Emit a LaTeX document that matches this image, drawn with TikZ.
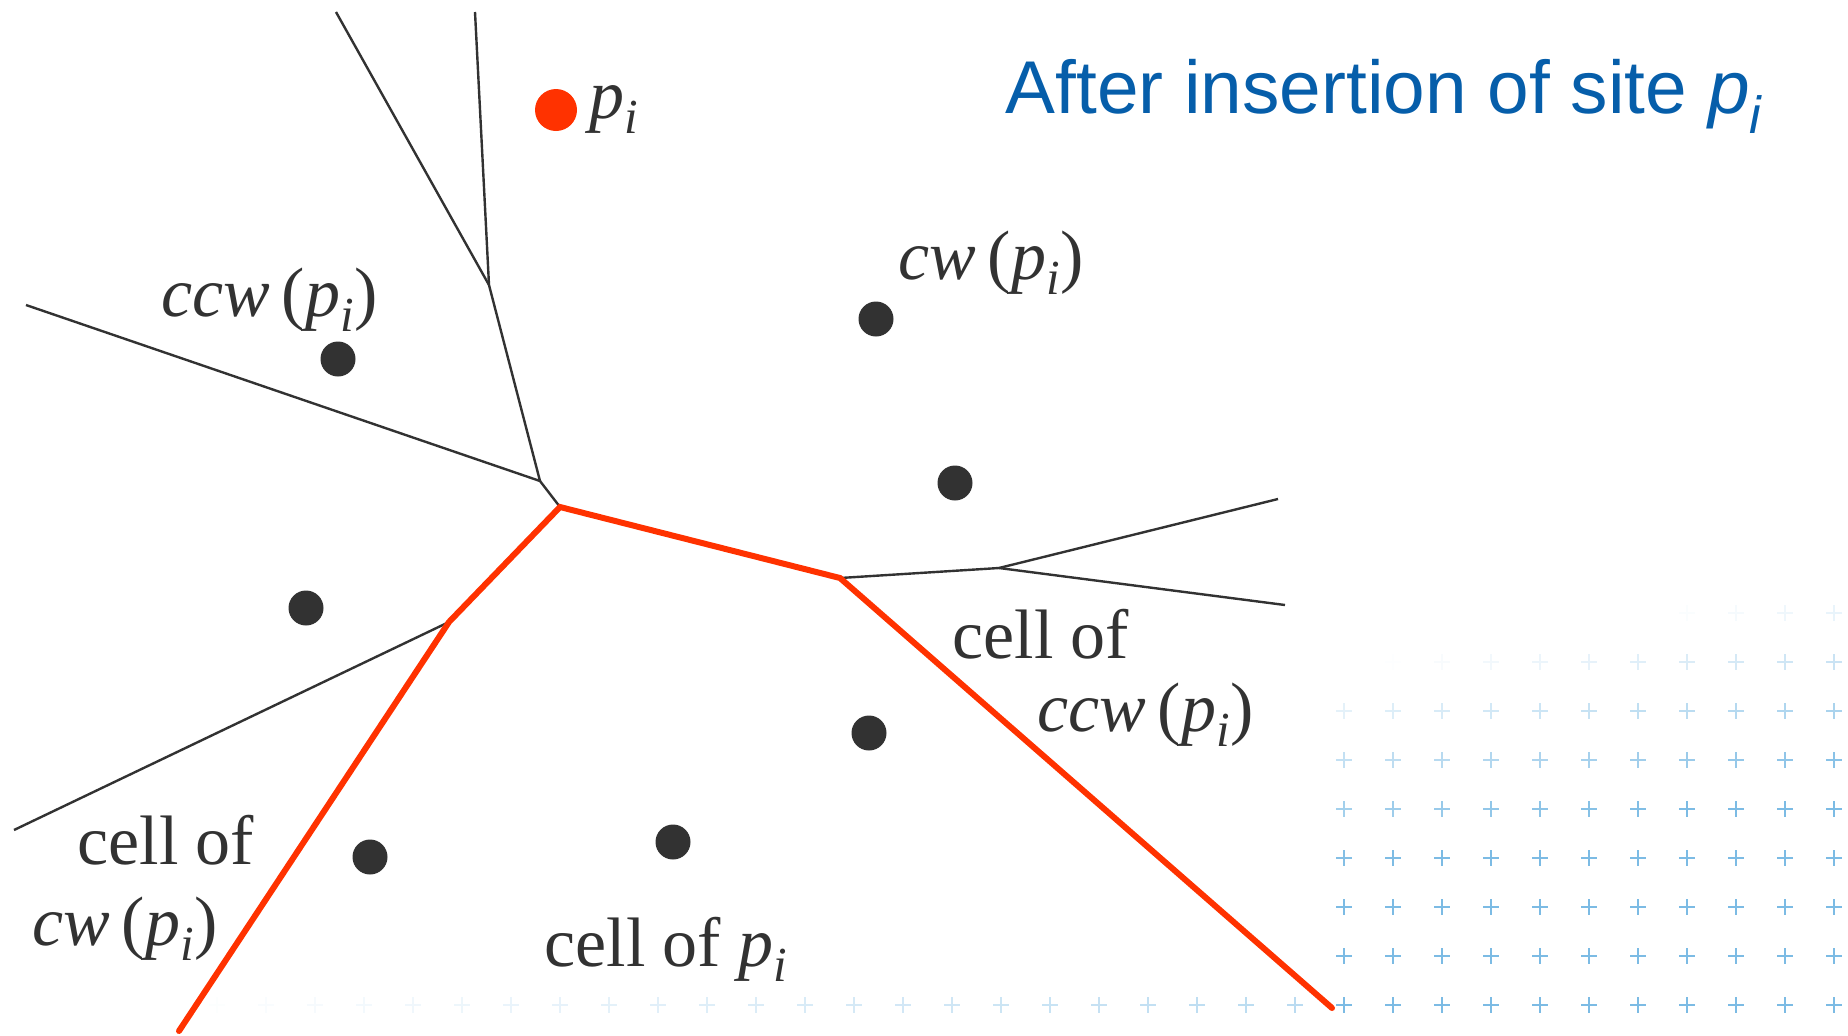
\documentclass[tikz,border=0pt]{standalone}
\usepackage{fontspec}
\setmainfont{Liberation Serif}
\newfontfamily\titlefont{Liberation Sans}
\definecolor{edgered}{RGB}{255,50,0}
\definecolor{titleblue}{RGB}{6,94,170}
\definecolor{plusblue}{RGB}{110,180,225}
\definecolor{ink}{RGB}{50,50,50}
\newcommand{\pisub}{\textit{p}\textsubscript{\textit{i}}}

\begin{document}
\begin{tikzpicture}[x=0.5pt, y=-0.5pt,
		site/.style={circle, fill=ink, inner sep=0pt, minimum size=17.5pt},
		newsite/.style={circle, fill=edgered, inner sep=0pt, minimum size=21pt},
		lbl/.style={inner sep=0pt, anchor=base west, font=\fontsize{35}{40}\selectfont, text=ink},
		edge/.style={ink, line width=1.2pt},
		newedge/.style={edgered, line width=3pt, line cap=round},
		plus/.style={plusblue, line width=0.7pt}]
		\useasboundingbox (0,0) rectangle (1848,1035);
		% background crosses
		\foreach \c in {0,...,10} {
			\foreach \r in {0,...,8} {
				\pgfmathsetmacro\op{min(0.9, max(0, 0.04*\c + 0.22*\r - 0.25))}
				\pgfmathsetmacro\px{1344 + 49*\c}
				\pgfmathsetmacro\py{613 + 49*\r}
				\draw[plus, opacity=\op] (\px-8,\py) -- (\px+8,\py) (\px,\py-8) -- (\px,\py+8);
			}
		}
		\foreach \k in {1,...,23} {
			\pgfmathsetmacro\op{0.5*(1 - \k/24)}
			\pgfmathsetmacro\px{1344 - 49*\k}
			\draw[plus, opacity=\op] (\px-8,1005) -- (\px+8,1005) (\px,997) -- (\px,1013);
		}
		% vertices
		\coordinate (a) at (489,285);
		\coordinate (b) at (540,481);
		\coordinate (c) at (560,507);
		\coordinate (d) at (840,578);
		\coordinate (e) at (449,622);
		\coordinate (f) at (999,568);
		% free ends
		\coordinate (t1) at (336,12);
		\coordinate (t2) at (475,12);
		\coordinate (l1) at (26,305);
		\coordinate (l2) at (14,830);
		\coordinate (r1) at (1278,499);
		\coordinate (r2) at (1285,605);
		\coordinate (s1) at (179,1031);
		\coordinate (s2) at (1332,1008);
		% old diagram
		\draw[edge] (t1) -- (a);
		\draw[edge] (t2) -- (a);
		\draw[edge] (a) -- (b);
		\draw[edge] (l1) -- (b);
		\draw[edge] (b) -- (c);
		\draw[edge] (e) -- (l2);
		\draw[edge] (d) -- (f);
		\draw[edge] (f) -- (r1);
		\draw[edge] (f) -- (r2);
		% new cell
		\draw[newedge] (s1) -- (e) -- (c) -- (d) -- (s2);
		% sites
		\node[newsite] (pi) at (556,110) {};
		\node[site] (ccw) at (338,359) {};
		\node[site] (cw) at (876,319) {};
		\node[site] (q1) at (955,483) {};
		\node[site] (q2) at (306,608) {};
		\node[site] (q3) at (869,733) {};
		\node[site] (q4) at (673,842) {};
		\node[site] (q5) at (370,857) {};
		% labels
		\node[lbl] (pilbl) at (589,118) {\pisub};
		\node[lbl] (ccwlbl) at (161,316) {\textit{ccw}\,(\pisub)};
		\node[lbl] (cwlbl) at (898,279) {\textit{cw}\,(\pisub)};
		\node[lbl] (cellccw) at (952,658) {cell of};
		\node[lbl] (cellccwb) at (1037,731) {\textit{ccw}\,(\pisub)};
		\node[lbl] (cellcw) at (77,864) {cell of};
		\node[lbl] (cellcwb) at (32,945) {\textit{cw}\,(\pisub)};
		\node[lbl] (cellpi) at (544,966) {cell of \pisub};
		\node[inner sep=0pt, anchor=base east, text=titleblue, font=\titlefont\fontsize{37.4}{44}\selectfont] (title) at (1764,113) {After insertion of site \textit{p}\textsubscript{\textit{i}}};
	\end{tikzpicture}
\end{document}
